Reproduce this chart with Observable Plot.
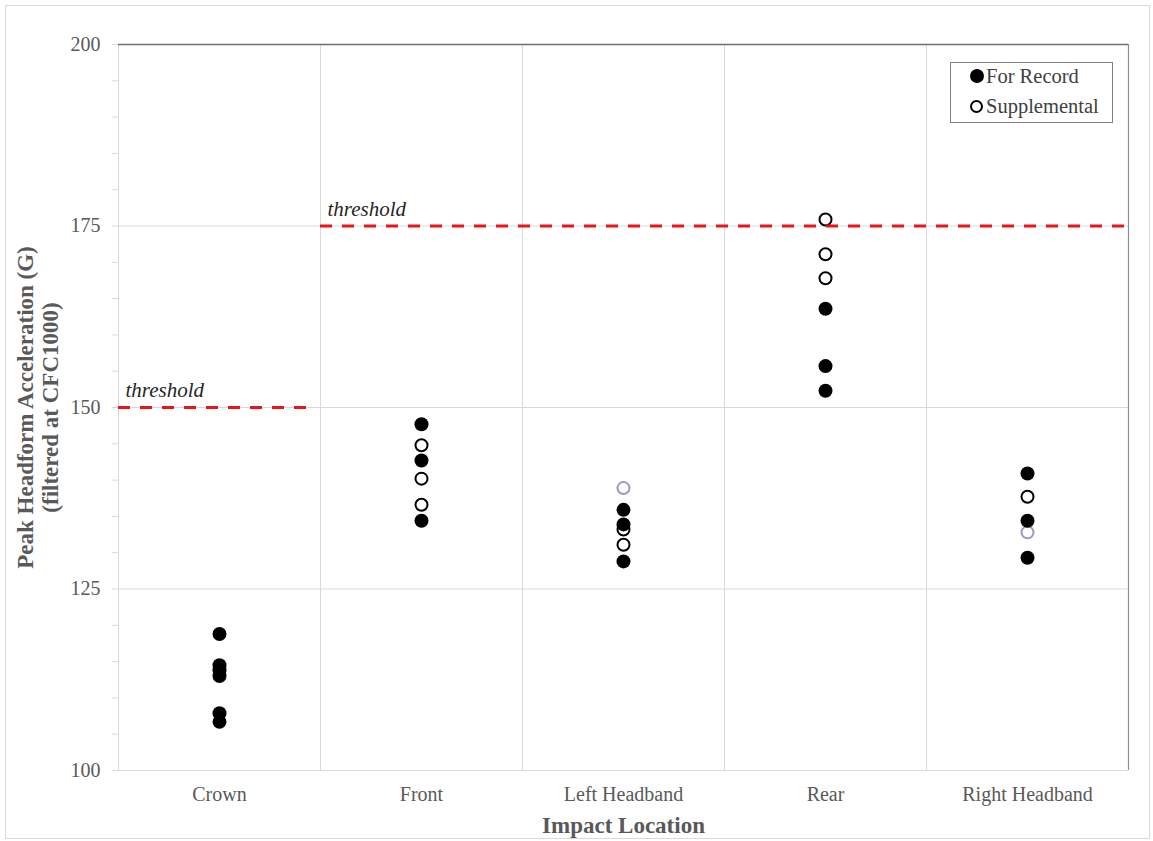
<!DOCTYPE html>
<html>
<head>
<meta charset="utf-8">
<script src="https://cdn.jsdelivr.net/npm/d3@7"></script>
<script src="https://cdn.jsdelivr.net/npm/@observablehq/plot@0.6"></script>
<style>
  html, body { margin: 0; padding: 0; background: #fff; }
  #wrap { position: relative; width: 1153px; height: 841px; }
  #border { position: absolute; left: 5px; top: 5px; width: 1143px; height: 832px; border: 1px solid #d9d9d9; pointer-events: none; }
  #chart { position: absolute; left: 0; top: 0; }
  #legend { position: absolute; left: 950px; top: 62px; width: 161px; height: 59px; border: 1px solid #808080; background: #fff;
            font-family: "Liberation Serif", serif; font-size: 20.5px; color: #404040; }
  .row { position: absolute; left: 19px; display: flex; align-items: center; height: 26px; }
  .sym { width: 14px; height: 14px; border-radius: 50%; box-sizing: border-box; margin-right: 2px; }
</style>
</head>
<body>
<div id="wrap">
  <div id="chart"></div>
  <div id="border"></div>
  <div id="legend">
    <div class="row" style="top:0px"><div class="sym" style="background:#000"></div>For Record</div>
    <div class="row" style="top:30px"><div class="sym" style="border:2px solid #000;background:#fff;width:13px;height:13px;margin-right:3px"></div>Supplemental</div>
  </div>
</div>
<script>
// ---- data ----
const categories = ["Crown", "Front", "Left Headband", "Rear", "Right Headband"];
const recordValues = [
  [118.8, 114.5, 113.8, 113.0, 107.9, 106.7],
  [147.7, 142.7, 134.4],
  [135.9, 133.9, 128.8],
  [163.6, 155.7, 152.3],
  [140.9, 134.4, 129.3]
];
const supplementalValues = [
  [],
  [144.8, 140.2, 136.6],
  [133.2, 131.1],
  [175.9, 171.1, 167.8],
  [137.7]
];
const supplementalAltValues = [
  [],
  [],
  [138.9],
  [],
  [132.8]
];
const thresholdValues = [150, 175];
const thresholdFrom = [0, 1];
const thresholdTo = [0.96, 5];
const yMajorTicks = [100, 125, 150, 175, 200];
const yMinorTicks = d3.range(100, 201, 5);

// ---- build tables ----
const flat = (vals) => vals.flatMap((arr, i) => arr.map(v => ({cat: categories[i], pos: i + 0.5, value: v})));
const record = flat(recordValues);
const supp = flat(supplementalValues);
const suppAlt = flat(supplementalAltValues);
const thresholds = thresholdValues.map((v, i) => ({value: v, from: thresholdFrom[i], to: thresholdTo[i]}));

const serif = "Liberation Serif";
const plot = Plot.plot({
  width: 1153,
  height: 841,
  marginLeft: 118,
  marginRight: 25,
  marginTop: 44,
  marginBottom: 71,
  style: {fontFamily: serif, fontSize: "20px", background: "transparent", overflow: "visible"},
  x: {type: "linear", domain: [0, 5]},
  y: {domain: [100, 200]},
  marks: [
    Plot.gridX([1, 2, 3, 4], {stroke: "#d9d9d9", strokeOpacity: 1}),
    Plot.gridY([125, 150, 175], {stroke: "#d9d9d9", strokeOpacity: 1}),
    Plot.ruleX([0], {stroke: "#d9d9d9"}),
    Plot.ruleY([100], {stroke: "#d9d9d9"}),
    Plot.ruleY([200], {stroke: "#6f6f6f", strokeWidth: 1.5}),
    Plot.ruleX([5], {stroke: "#8f8f8f", strokeWidth: 1.2}),
    Plot.axisY({ticks: yMinorTicks, tickSize: 6, tickFormat: () => "", stroke: "#d9d9d9", label: null}),
    Plot.axisY({ticks: yMajorTicks, tickSize: 0, tickPadding: 18, fill: "#595959", fontSize: 20, label: null}),
    Plot.axisX({ticks: categories.map((c, i) => i + 0.5), tickFormat: (d) => categories[Math.floor(d)], tickSize: 0, tickPadding: 16, fill: "#595959", fontSize: 20, label: null}),
    Plot.text(["Impact Location"], {frameAnchor: "bottom", dy: 62, fontWeight: "bold", fontSize: 23, fill: "#595959"}),
    Plot.text(["Peak Headform Acceleration (G)"], {frameAnchor: "left", dx: -93, rotate: -90, textAnchor: "middle", fontWeight: "bold", fontSize: 23, fill: "#595959"}),
    Plot.text(["(filtered at CFC1000)"], {frameAnchor: "left", dx: -68, rotate: -90, textAnchor: "middle", fontWeight: "bold", fontSize: 23, fill: "#595959"}),
    Plot.dot(supp, {x: "pos", y: "value", r: 6, fill: "#fff", stroke: "#000", strokeWidth: 2}),
    Plot.dot(suppAlt, {x: "pos", y: "value", r: 6, fill: "#fff", stroke: "#9a9ac4", strokeWidth: 2}),
    Plot.dot(record, {x: "pos", y: "value", r: 7, fill: "#000", stroke: "none"}),
    Plot.ruleY(thresholds, {y: "value", x1: "from", x2: "to", stroke: "#e8161c", strokeWidth: 3, strokeDasharray: "12,10"}),
    Plot.text(thresholds, {x: "from", y: "value", text: () => "threshold", dx: 7, dy: -17, textAnchor: "start", fontStyle: "italic", fontSize: 21, fill: "#262626"})
  ]
});
document.getElementById("chart").appendChild(plot);
</script>
</body>
</html>
